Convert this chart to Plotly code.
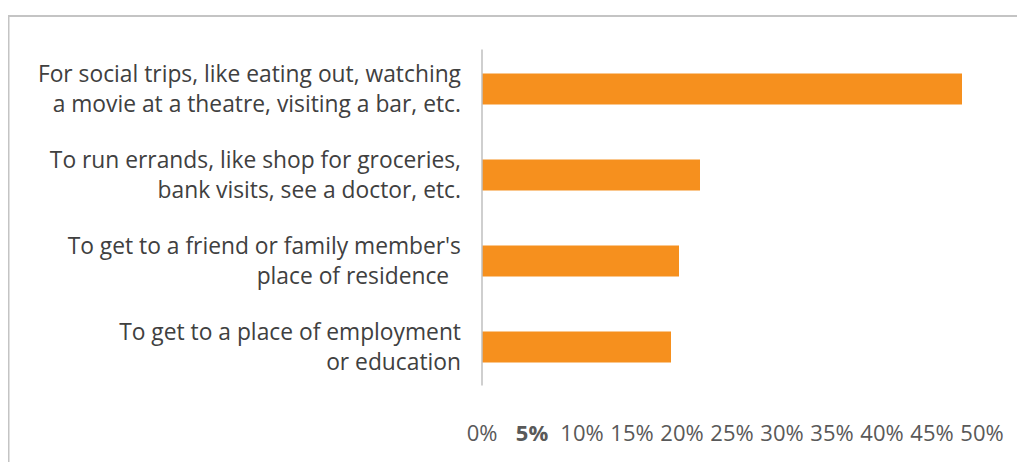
import plotly.graph_objects as go

categories = [
    "To get to a place of employment<br>or education",
    "To get to a friend or family member's<br>place of residence  ",
    "To run errands, like shop for groceries,<br>bank visits, see a doctor, etc.",
    "For social trips, like eating out, watching<br>a movie at a theatre, visiting a bar, etc.",
]
values = [18.9, 19.7, 21.8, 48.0]
tick_vals = [0, 5, 10, 15, 20, 25, 30, 35, 40, 45, 50]
tick_text = ["0%", "<b>5%</b>", "10%", "15%", "20%", "25%", "30%", "35%", "40%", "45%", "50%"]

# page has an 8px body margin; work in reference pixel coords minus offset
OFF = 8
W, H = 1025 - OFF, 462 - OFF
L, R, T, B = 482 - OFF, 43, 45.5 - OFF, 71.5
pw, ph = W - L - R, H - T - B

def px(x):
    return (x - OFF - L) / pw

def py(y):
    return (H - B - (y - OFF)) / ph

fig = go.Figure(go.Bar(
    y=categories, x=values, orientation="h",
    marker=dict(color="#F6901E", line=dict(width=0)),
    hoverinfo="x+y",
))

fig.update_layout(
    width=W, height=H,
    margin=dict(l=L, r=R, t=T, b=B, pad=0),
    paper_bgcolor="white", plot_bgcolor="white",
    bargap=0.64,
    showlegend=False,
    font=dict(family="'Open Sans', Lato, sans-serif", color="#404040"),
    xaxis=dict(
        range=[0, 50], tickvals=tick_vals, ticktext=tick_text,
        showgrid=False, zeroline=False, showline=False,
        ticks="", ticklabelstandoff=28,
        tickfont=dict(size=22, color="#595959"),
        fixedrange=True,
    ),
    yaxis=dict(
        showgrid=False, zeroline=False, showline=False, ticks="",
        ticklabelstandoff=20,
        tickfont=dict(size=22.8, color="#404040"),
        fixedrange=True,
    ),
    shapes=[
        dict(type="line", xref="paper", yref="paper",
             x0=0, x1=0, y0=py(386), y1=py(49),
             line=dict(color="#BFBFBF", width=1.5)),
        dict(type="line", xref="paper", yref="paper",
             x0=px(8.5), x1=px(8.5), y0=py(480), y1=py(15.5),
             line=dict(color="#C4C4C4", width=2)),
        dict(type="line", xref="paper", yref="paper",
             x0=px(7.5), x1=px(1040), y0=py(15.5), y1=py(15.5),
             line=dict(color="#C4C4C4", width=2)),
    ],
)

fig.write_html("out.html")
